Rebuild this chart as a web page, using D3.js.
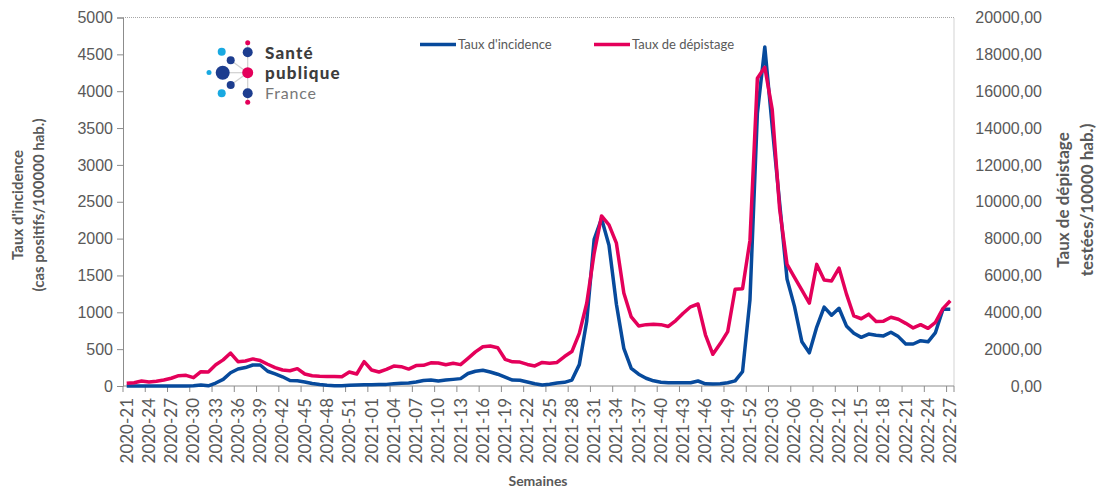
<!DOCTYPE html>
<html>
<head>
<meta charset="utf-8">
<script src="https://cdn.jsdelivr.net/npm/d3@7"></script>
<style>
  body { margin: 0; background: #fff; }
  svg { display: block; font-family: Lato, "Open Sans", sans-serif; }
</style>
</head>
<body>
<svg width="1099" height="490"></svg>
<script>
(function(d3) {
    'use strict';

    // weeks 2020-21 .. 2022-27 (2020 has 53 ISO weeks)
    const weekRanges = [[2020, 21, 53], [2021, 1, 52], [2022, 1, 27]];
    const weeks = weekRanges.flatMap(([yr, a, b]) =>
        d3.range(a, b + 1).map(w => `${yr}-${String(w).padStart(2, '0')}`));

    // Taux d'incidence (cas positifs / 100000 hab.) - left axis
    const incidence = [
        0, 0, 0, 0, 0, 0, 0, 0, 0, 2,
        12, 2, 40, 90, 180, 230, 250, 285, 285, 200,
        165, 125, 75, 70, 55, 35, 20, 10, 5, 5,
        10, 15, 18, 18, 20, 22, 30, 38, 40, 55,
        75, 80, 68, 80, 90, 100, 170, 200, 213, 190,
        160, 120, 81, 77, 55, 30, 15, 25, 40, 50,
        80, 290, 880, 1990, 2270, 1910, 1110, 510, 240, 160,
        105, 70, 52, 45, 45, 45, 45, 68, 30, 28,
        30, 45, 70, 195, 1170, 3700, 4600, 3520, 2480, 1450,
        1080, 600, 450, 800, 1070, 960, 1055, 815, 715, 660,
        705, 690, 680, 730, 670, 570, 570, 615, 600, 725,
        1040, 1040
    ];

    // Taux de dépistage (testées / 100000 hab.) - right axis
    const depistage = [
        150, 180, 270, 220, 260, 330, 420, 560, 580, 450,
        780, 760, 1150, 1420, 1790, 1320, 1360, 1470, 1380, 1180,
        1000, 870, 830, 940, 650, 560, 530, 520, 515, 505,
        760, 650, 1320, 870, 760, 900, 1080, 1050, 920, 1110,
        1120, 1260, 1250, 1150, 1230, 1160, 1500, 1850, 2130, 2170,
        2080, 1450, 1310, 1300, 1170, 1090, 1280, 1230, 1280, 1600,
        1870, 2860, 4490, 7200, 9230, 8750, 7750, 5050, 3750, 3260,
        3330, 3350, 3330, 3230, 3550, 3950, 4300, 4450, 2780, 1720,
        2300, 2950, 5250, 5280, 7900, 16700, 17300, 15000, 9600, 6600,
        5900, 5200, 4500, 6600, 5750, 5700, 6400, 5000, 3800, 3650,
        3900, 3500, 3520, 3730, 3620, 3400, 3150, 3330, 3130, 3450,
        4200, 4630
    ];

    const leftTicks = d3.range(0, 5001, 500);
    const rightTicks = d3.range(0, 20001, 2000);
    const seriesNames = ["Taux d'incidence", 'Taux de dépistage'];
    const colors = ['#074a9c', '#e4005a'];

    const svg = d3.select('svg');
    const left = 123, right = 954, top = 17.5, bottom = 386;
    const textColor = '#595959';

    const x = d3.scalePoint().domain(weeks).range([left, right]).padding(0.5);
    const step = x.step();
    const yL = d3.scaleLinear().domain([0, 5000]).range([bottom, top]);
    const yR = d3.scaleLinear().domain([0, 20000]).range([bottom, top]);
    const frFormat = d3.formatLocale({ decimal: ',', thousands: '', grouping: [3], currency: ['', ''] }).format('.2f');

    // plot frame: dotted top/right
    svg.append('path')
        .attr('d', `M${left},${top}H${right}V${bottom}`)
        .attr('fill', 'none')
        .attr('stroke', '#a6a6a6')
        .attr('stroke-dasharray', '1,1');

    // left axis
    const gL = svg.append('g').attr('transform', `translate(${left},0)`)
        .call(d3.axisLeft(yL).tickValues(leftTicks).tickFormat(d3.format('d')).tickSize(6).tickPadding(4));
    gL.select('.domain').attr('stroke', '#8c8c8c');
    gL.selectAll('.tick line').attr('stroke', '#8c8c8c');
    gL.selectAll('.tick text').attr('fill', textColor).style('font-size', '16px');

    // right axis (labels only)
    const gR = svg.append('g').attr('transform', `translate(${right},0)`)
        .call(d3.axisRight(yR).tickValues(rightTicks).tickFormat(frFormat).tickSize(0).tickPadding(88));
    gR.select('.domain').remove();
    gR.selectAll('.tick text').attr('fill', textColor).attr('text-anchor', 'end').style('font-size', '16px');

    // bottom axis: ticks at category boundaries, labels at centres
    svg.append('line')
        .attr('x1', left).attr('x2', right).attr('y1', bottom).attr('y2', bottom)
        .attr('stroke', '#8c8c8c');
    const labelled = weeks.filter((d, i) => i % 3 === 0);
    svg.append('g').selectAll('line')
        .data(labelled.concat([null]))
        .join('line')
        .attr('x1', d => d ? x(d) - step / 2 : right)
        .attr('x2', d => d ? x(d) - step / 2 : right)
        .attr('y1', bottom).attr('y2', bottom + 6)
        .attr('stroke', '#8c8c8c');
    svg.append('g').selectAll('text')
        .data(labelled)
        .join('text')
        .attr('transform', d => `translate(${x(d)},${bottom + 12}) rotate(-90)`)
        .attr('dy', '0.35em')
        .attr('text-anchor', 'end')
        .attr('fill', textColor)
        .style('font-size', '17px')
        .text(d => d);

    // axis titles
    svg.append('text')
        .attr('transform', 'translate(23,205) rotate(-90)')
        .attr('text-anchor', 'middle')
        .attr('fill', textColor)
        .style('font-size', '15px').style('font-weight', 'bold')
        .selectAll('tspan')
        .data(["Taux d'incidence", '(cas positifs/100000 hab.)'])
        .join('tspan')
        .attr('x', 0)
        .attr('dy', (d, i) => i ? '1.4em' : '0')
        .text(d => d);

    svg.append('text')
        .attr('transform', 'translate(1069,200) rotate(-90)')
        .attr('text-anchor', 'middle')
        .attr('fill', textColor)
        .style('font-size', '17px').style('font-weight', 'bold')
        .selectAll('tspan')
        .data(['Taux de dépistage', 'testées/10000 hab.)'])
        .join('tspan')
        .attr('x', 0)
        .attr('dy', (d, i) => i ? '1.4em' : '0')
        .text(d => d);

    svg.append('text')
        .attr('x', 538).attr('y', 486)
        .attr('text-anchor', 'middle')
        .attr('fill', textColor)
        .style('font-size', '14px').style('font-weight', 'bold')
        .text('Semaines');

    // series
    const lineL = d3.line().x((d, i) => x(weeks[i])).y(d => yL(d));
    const lineR = d3.line().x((d, i) => x(weeks[i])).y(d => yR(d));
    svg.append('path')
        .datum(incidence)
        .attr('d', lineL)
        .attr('fill', 'none')
        .attr('stroke', colors[0])
        .attr('stroke-width', 3.5)
        .attr('stroke-linejoin', 'round');
    svg.append('path')
        .datum(depistage)
        .attr('d', lineR)
        .attr('fill', 'none')
        .attr('stroke', colors[1])
        .attr('stroke-width', 3.5)
        .attr('stroke-linejoin', 'round');

    // legend
    const legend = svg.append('g').selectAll('g')
        .data(seriesNames)
        .join('g')
        .attr('transform', (d, i) => `translate(${i ? 594 : 420},44.5)`);
    legend.append('line')
        .attr('x1', 0).attr('x2', 36)
        .attr('stroke', (d, i) => colors[i])
        .attr('stroke-width', 3.5);
    legend.append('text')
        .attr('x', 38).attr('dy', '0.35em')
        .attr('fill', textColor)
        .style('font-size', '13px')
        .text(d => d);

    // Santé publique France logo
    const logo = svg.append('g');
    const hub = [247.7, 72.7];
    const dots = [
        [221.7, 51.7, 4, '#19a9e1'], [247.7, 52.3, 5, '#1d3d8f'], [247.7, 42.7, 2.5, '#e4005a'],
        [230.7, 60.3, 4, '#1d3d8f'], [209, 72.5, 2.5, '#19a9e1'], [222.7, 72.7, 7, '#1d3d8f'],
        [247.7, 72.7, 5.5, '#e4005a'], [230.7, 85, 4, '#1d3d8f'], [221.7, 93.3, 4, '#19a9e1'],
        [247.7, 93.3, 5, '#1d3d8f'], [247.7, 102.3, 2.5, '#e4005a']
    ];
    logo.selectAll('line')
        .data([[247.7, 42.7], [247.7, 102.3], [222.7, 72.7], [230.7, 60.3], [230.7, 85]])
        .join('line')
        .attr('x1', hub[0]).attr('y1', hub[1])
        .attr('x2', d => d[0]).attr('y2', d => d[1])
        .attr('stroke', '#d0d0d0').attr('stroke-width', 1.2);
    logo.selectAll('circle')
        .data(dots)
        .join('circle')
        .attr('cx', d => d[0]).attr('cy', d => d[1]).attr('r', d => d[2])
        .attr('fill', d => d[3]);
    logo.selectAll('text')
        .data([['Santé', 58.5, 'bold', '#3d3d3d'], ['publique', 79, 'bold', '#3d3d3d'], ['France', 99, 'normal', '#777']])
        .join('text')
        .attr('x', 265).attr('y', d => d[1])
        .attr('fill', d => d[3])
        .style('font-family', 'Lato, sans-serif')
        .style('font-size', d => d[2] === 'bold' ? '17px' : '16px')
        .style('font-weight', d => d[2] === 'bold' ? 900 : 400)
        .style('letter-spacing', d => d[2] === 'bold' ? '1.2px' : '0.8px')
        .text(d => d[0]);
}(d3));
</script>
</body>
</html>
